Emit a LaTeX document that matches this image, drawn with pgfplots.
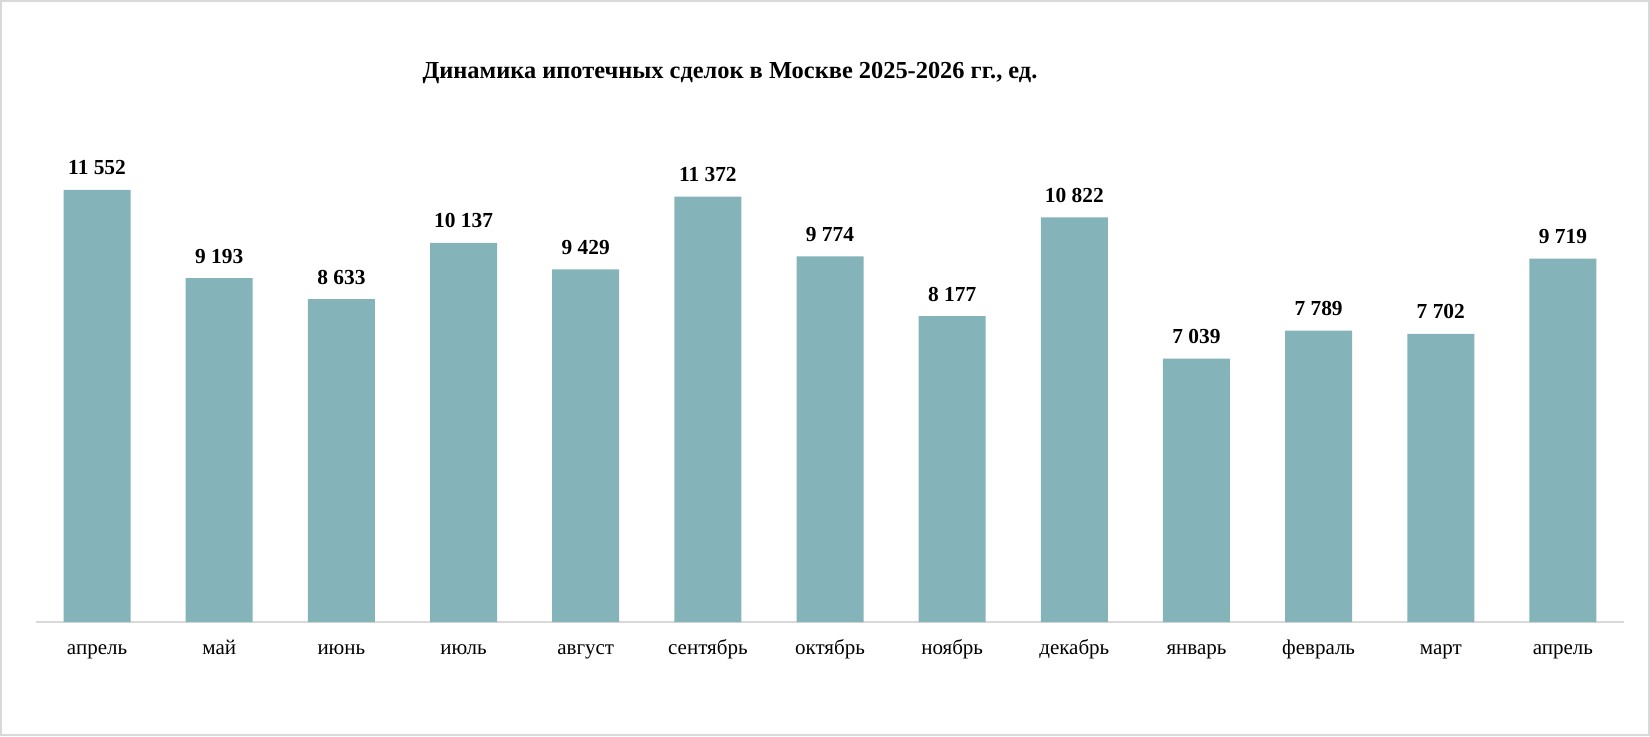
\documentclass[border=0pt]{standalone}
\usepackage{pgfplots}
\pgfplotsset{compat=1.18}
\usepackage{fontspec}
\setmainfont{Liberation Serif}
\definecolor{barc}{HTML}{84B3B9}
\definecolor{linec}{HTML}{D9D9D9}
\begin{document}
\begin{tikzpicture}
\begin{axis}[
	name=ax,
	scale only axis,
	width=794pt, height=236pt,
	ybar, bar width=33.5pt,
	xmin=-0.5, xmax=12.5,
	ymin=0, ymax=12620,
	axis y line=none,
	axis x line*=bottom,
	axis line style={linec, line width=0.8pt},
	xtick=data,
	xticklabels={апрель,май,июнь,июль,август,сентябрь,октябрь,ноябрь,декабрь,январь,февраль,март,апрель},
	major tick length=0pt,
	xticklabel style={font=\fontsize{10.5}{12}\selectfont, anchor=base, yshift=-16pt},
	nodes near coords,
	nodes near coords style={font=\fontsize{10.7}{12}\selectfont\bfseries, anchor=base, yshift=7.5pt,
		/pgf/number format/.cd, fixed, precision=0, 1000 sep={\ }, assume math mode=true},
]
\addplot[fill=barc, draw=none] coordinates {
	(0,11552) (1,9193) (2,8633) (3,10137) (4,9429) (5,11372) (6,9774)
	(7,8177) (8,10822) (9,7039) (10,7789) (11,7702) (12,9719)
};
\end{axis}
\node[font=\fontsize{12.2}{14}\selectfont\bfseries] at ([shift={(347pt,274.5pt)}]ax.south west)
	{Динамика ипотечных сделок в Москве 2025-2026 гг., ед.};
\pgfresetboundingbox
\draw[linec, line width=0.8pt] ([shift={(-17.6pt,-56.6pt)}]ax.south west) rectangle ([shift={(806.6pt,310.6pt)}]ax.south west);
\useasboundingbox ([shift={(-18pt,-57pt)}]ax.south west) rectangle ([shift={(807pt,311pt)}]ax.south west);
\end{tikzpicture}
\end{document}
